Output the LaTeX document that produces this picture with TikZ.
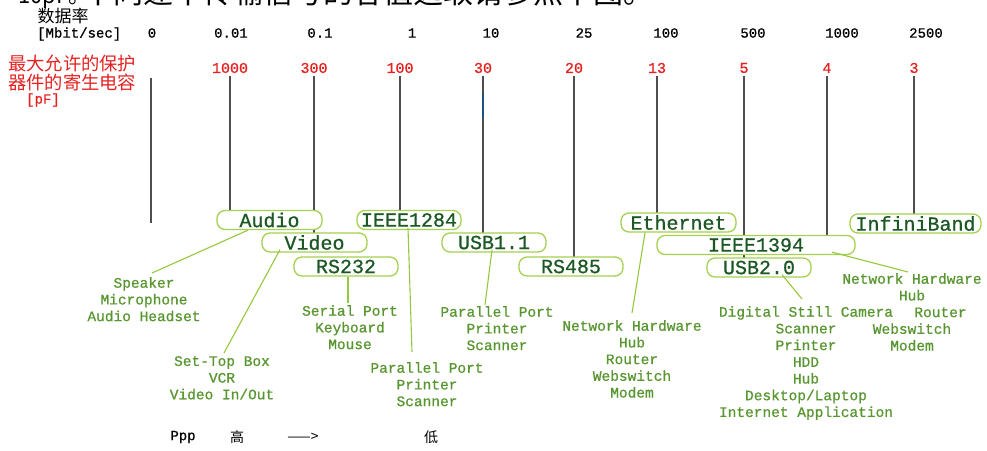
\documentclass[tikz,border=0pt]{standalone}
\usepackage{fontspec}
\newfontfamily\monofam[FakeBold=0.8]{Liberation Mono}
\newfontfamily\cjkfam{Noto Sans CJK SC}
\usetikzlibrary{calc}

\definecolor{capred}{RGB}{228,34,34}
\definecolor{busedge}{RGB}{165,208,80}
\definecolor{bustext}{RGB}{28,88,36}
\definecolor{devtext}{RGB}{88,150,48}
\definecolor{leadgreen}{RGB}{150,200,60}
\definecolor{axisgray}{RGB}{78,78,78}
\definecolor{markblue}{RGB}{30,80,130}

\tikzset{
  rate/.style={font=\monofam\fontsize{14}{14}\selectfont, inner sep=0pt, text=black},
  caplbl/.style={font=\monofam\fontsize{15}{15}\selectfont, inner sep=0pt, text=capred},
  capline/.style={draw=axisgray, line width=1.6pt},
  bus/.style={draw=busedge, fill=white, line width=1.3pt, rounded corners=8pt,
    inner sep=0pt, text=bustext, font=\monofam\fontsize{20}{20}\selectfont,
    minimum height=19pt},
  lead/.style={draw=leadgreen, line width=1.1pt},
  dev/.style={font=\monofam\fontsize{14.5}{16.7}\selectfont, text=devtext,
    align=center, inner sep=0pt, anchor=north},
  headcjk/.style={font=\cjkfam\fontsize{17}{20}\selectfont, inner sep=0pt},
}

\begin{document}
\begin{tikzpicture}[x=1pt,y=-1pt]
\useasboundingbox (0,0) rectangle (987,450);
\clip (0,0) rectangle (987,450);

% running text of the page above, cut by the page edge
\node[anchor=base west, inner sep=0pt, font=\cjkfam\fontsize{22}{22}\selectfont] (prevA) at (6,3) {<10pF。};
\node[anchor=base west, inner sep=0pt, font=\cjkfam\fontsize{30}{30}\selectfont] (prevB) at (83,3) {不同速率传输信号的容值选取请参照下图。};

% axis headings
\node[headcjk] (ratehead) at (63,16) {数据率};
\node[rate, anchor=west] (rateunit) at (37,34) {[Mbit/sec]};
\node[headcjk, font=\cjkfam\fontsize{18.3}{20}\selectfont, text=capred, anchor=west] (caphead1) at (8,64) {最大允许的保护};
\node[headcjk, font=\cjkfam\fontsize{18.3}{20}\selectfont, text=capred, anchor=west] (caphead2) at (8,82) {器件的寄生电容};
\node[rate, text=capred] (capunit) at (43,100) {[pF]};

% data rates
\node[rate] (r0)    at (152,33) {0};
\node[rate] (r001)  at (231,33) {0.01};
\node[rate] (r01)   at (320,33) {0.1};
\node[rate] (r1)    at (412,33) {1};
\node[rate] (r10)   at (491,33) {10};
\node[rate] (r25)   at (584,33) {25};
\node[rate] (r100)  at (666,33) {100};
\node[rate] (r500)  at (753,33) {500};
\node[rate] (r1000) at (842,33) {1000};
\node[rate] (r2500) at (926,33) {2500};

% capacitance limits
\node[caplbl] (c1000) at (230,68) {1000};
\node[caplbl] (c300)  at (314,68) {300};
\node[caplbl] (c100)  at (400,68) {100};
\node[caplbl] (c30)   at (483,68) {30};
\node[caplbl] (c20)   at (574,68) {20};
\node[caplbl] (c13)   at (657,68) {13};
\node[caplbl] (c5)    at (744,68) {5};
\node[caplbl] (c4)    at (827,68) {4};
\node[caplbl] (c3)    at (914,68) {3};

% drop lines from each limit to its interface
\coordinate (z0a) at (151,78);
\coordinate (z0b) at (151,223);
\draw[capline] (z0a) -- (z0b);
\draw[capline] (c1000 |- 0,76) -- (c1000 |- 0,211);
\draw[capline] (c300 |- 0,76)  -- (c300 |- 0,233);
\draw[capline] (c100 |- 0,76)  -- (c100 |- 0,211);
\draw[capline] (c30 |- 0,76)   -- (c30 |- 0,233);
\draw[draw=markblue, line width=1.8pt] (c30 |- 0,93) -- (c30 |- 0,118);
\draw[capline] (c20 |- 0,76)   -- (c20 |- 0,257);
\draw[capline] (c13 |- 0,76)   -- (c13 |- 0,213);
\draw[capline] (c5 |- 0,76)    -- (c5 |- 0,258);
\draw[capline] (c4 |- 0,76)    -- (c4 |- 0,236);
\draw[capline] (c3 |- 0,76)    -- (c3 |- 0,214);

% interface boxes (white fill hides the drop lines passing behind)
\node[bus, minimum width=105pt] (audio)      at (269.5,220)   {Audio};
\node[bus, minimum width=105pt] (video)      at (314.5,242.5) {Video};
\node[bus, minimum width=104pt] (rs232)      at (346,266.5)   {RS232};
\node[bus, minimum width=104pt] (ieee1284)   at (409,220)     {IEEE1284};
\node[bus, minimum width=104pt] (usb11)      at (494,242.5)   {USB1.1};
\node[bus, minimum width=104pt] (rs485)      at (571,266.5)   {RS485};
\node[bus, minimum width=115pt] (ethernet)   at (678.5,222.5) {Ethernet};
\node[bus, minimum width=198pt] (ieee1394)   at (756,245)     {IEEE1394};
\node[bus, minimum width=104pt] (usb20)      at (759,267.5)   {USB2.0};
\node[bus, minimum width=131pt] (infiniband) at (915.5,223.5) {InfiniBand};

% typical devices
\node[dev] (spk)    at (144,277) {Speaker\\Microphone\\Audio Headset};
\node[dev] (stb)    at (222,356) {Set-Top Box\\VCR\\Video In/Out};
\node[dev] (ser)    at (350,305) {Serial Port\\Keyboard\\Mouse};
\node[dev] (lpt1)   at (427,362) {Parallel Port\\Printer\\Scanner};
\node[dev] (lpt2)   at (497,306) {Parallel Port\\Printer\\Scanner};
\node[dev] (eth)    at (632,320) {Network Hardware\\Hub\\Router\\Webswitch\\Modem};
\node[dev] (usbdev) at (806,306) {Digital Still Camera\\Scanner\\Printer\\HDD\\Hub\\Desktop/Laptop\\Internet Application};
\node[dev] (fwdev)  at (912,273) {Network Hardware\\Hub\\\hspace*{57pt}Router\\Webswitch\\Modem};

% leaders from interfaces to devices
\draw[lead] ([xshift=-21.5pt]audio.south) -- ([xshift=8pt,yshift=4pt]spk.north);
\draw[lead] ([xshift=-34.5pt,yshift=3pt]video.south) -- ([xshift=2pt,yshift=3pt]stb.north);
\draw[lead] ([xshift=2pt]rs232.south) -- ([xshift=-2pt,yshift=2pt]ser.north);
\draw[lead] ([xshift=-1pt,yshift=2pt]ieee1284.south) -- ([xshift=-15pt,yshift=10pt]lpt1.north);
\draw[lead] ([xshift=-2pt,yshift=3pt]usb11.south) -- ([xshift=-12pt,yshift=1pt]lpt2.north);
\draw[lead] ([xshift=-33.5pt]ethernet.south) -- ([yshift=7pt]eth.north);
\draw[lead] ([xshift=23pt,yshift=3pt]usb20.south) -- ([xshift=-4pt,yshift=7pt]usbdev.north);
\draw[lead] ([xshift=76pt,yshift=3pt]ieee1394.south) -- ([xshift=-4pt,yshift=1pt]fwdev.north);

% priority note
\node[rate] (ppp) at (183,437) {Ppp};
\node[inner sep=0pt, font=\cjkfam\fontsize{14}{14}\selectfont] (hi) at (237,437) {高};
\node[inner sep=0pt, font=\cjkfam\fontsize{14}{14}\selectfont] (arrowtxt) at (303,437) {——>};
\node[inner sep=0pt, font=\cjkfam\fontsize{14}{14}\selectfont] (lo) at (431,437) {低};
\end{tikzpicture}
\end{document}
